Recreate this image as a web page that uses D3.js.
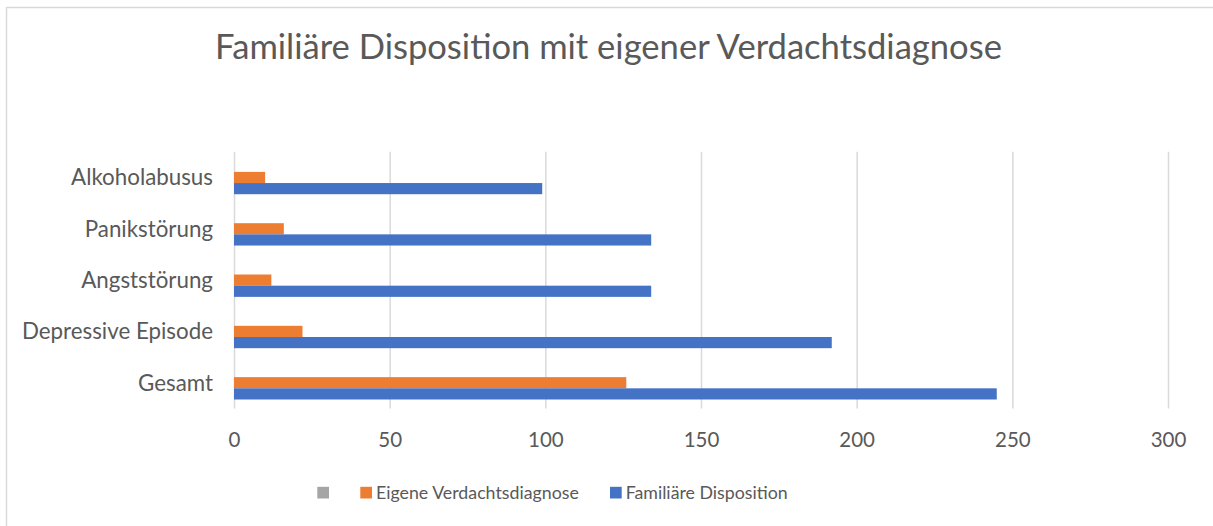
<!DOCTYPE html>
<html>
<head>
<meta charset="utf-8">
<script src="https://cdn.jsdelivr.net/npm/d3@7"></script>
<style>
  html, body { margin: 0; padding: 0; background: #fff; }
  svg { display: block; }
  text { font-family: Lato, "Open Sans", sans-serif; fill: #595959; }
</style>
</head>
<body>
<svg id="chart" width="1213" height="526"></svg>
<script>
// ---- data ----
const title = "Familiäre Disposition mit eigener Verdachtsdiagnose";
const categories = ["Gesamt", "Depressive Episode", "Angststörung", "Panikstörung", "Alkoholabusus"];
const seriesNames = ["", "Eigene Verdachtsdiagnose", "Familiäre Disposition"];
const emptySeries = [null, null, null, null, null];
const eigeneVerdachtsdiagnose = [126, 22, 12, 16, 10];
const familiaereDisposition = [245, 192, 134, 134, 99];
const seriesColors = ["#A5A5A5", "#ED7D31", "#4472C4"];
const xTicks = [0, 50, 100, 150, 200, 250, 300];

const seriesValues = [emptySeries, eigeneVerdachtsdiagnose, familiaereDisposition];

const svg = d3.select("#chart");

// border
svg.append("rect")
  .attr("x", 6.5).attr("y", 7.5)
  .attr("width", 1213).attr("height", 526)
  .attr("fill", "none").attr("stroke", "#D9D9D9").attr("stroke-width", 1.5);

function fitFont(sel, target, base) {
  sel.style("font-size", base + "px");
  const w = sel.node().getComputedTextLength();
  const s = base * target / w;
  return s;
}

// scales
const x = d3.scaleLinear().domain([0, 300]).range([234, 1168]);
const gap = 0.347;
const y = d3.scaleBand()
  .domain(categories.slice().reverse())
  .range([151.8, 408.4])
  .paddingInner(gap).paddingOuter(gap / 2);
const ySub = d3.scaleBand().domain(d3.range(seriesNames.length)).range([0, y.bandwidth()]);

// gridlines
svg.append("g").selectAll("line").data(xTicks).join("line")
  .attr("x1", d => x(d) + 0.5).attr("x2", d => x(d) + 0.5)
  .attr("y1", y.range()[0]).attr("y2", y.range()[1])
  .attr("stroke", "#D9D9D9").attr("stroke-width", 1.5);

// bars
seriesValues.forEach((vals, si) => {
  svg.append("g").selectAll("rect")
    .data(categories.map((c, i) => ({ c, v: vals[i] })).filter(d => d.v != null))
    .join("rect")
    .attr("x", x(0))
    .attr("y", d => y(d.c) + ySub(si))
    .attr("width", d => x(d.v) - x(0))
    .attr("height", ySub.bandwidth())
    .attr("fill", seriesColors[si]);
});

// x axis tick labels (via d3 axis)
const xAxis = svg.append("g")
  .attr("transform", "translate(0,426)")
  .call(d3.axisBottom(x).tickValues(xTicks).tickSize(0).tickPadding(0));
xAxis.select(".domain").remove();
const tickTexts = xAxis.selectAll("text").attr("fill", "#595959").attr("font-family", null);
const tickSize = fitFont(tickTexts.filter(d => d === 300), 35.7, 20);
tickTexts.style("font-size", tickSize + "px").attr("dy", null).attr("y", 20.7);

// y axis category labels
const yAxis = svg.append("g")
  .attr("transform", "translate(213,0)")
  .call(d3.axisLeft(y).tickSize(0).tickPadding(0));
yAxis.select(".domain").remove();
const catTexts = yAxis.selectAll("text").attr("fill", "#595959").attr("font-family", null);
const catSize = fitFont(catTexts.filter(d => d === "Alkoholabusus"), 142, 20);
catTexts.style("font-size", catSize + "px").attr("dy", "0.35em");

// title
const t = svg.append("text").text(title)
  .attr("x", 608.5).attr("y", 59.3).attr("text-anchor", "middle");
t.style("font-size", fitFont(t, 787, 28) + "px");

// legend
const legendX = [317.3, 360.3, 610];
const legend = svg.append("g");
let legendFont = null;
seriesNames.forEach((name, i) => {
  legend.append("rect")
    .attr("x", legendX[i]).attr("y", 486.8)
    .attr("width", 11.7).attr("height", 11.7)
    .attr("fill", seriesColors[i]);
  const lt = legend.append("text").text(name)
    .attr("x", legendX[i] + 15.7).attr("y", 498.5);
  if (name === "Eigene Verdachtsdiagnose") legendFont = fitFont(lt, 203, 20);
});
legend.selectAll("text").style("font-size", legendFont + "px");
</script>
</body>
</html>
